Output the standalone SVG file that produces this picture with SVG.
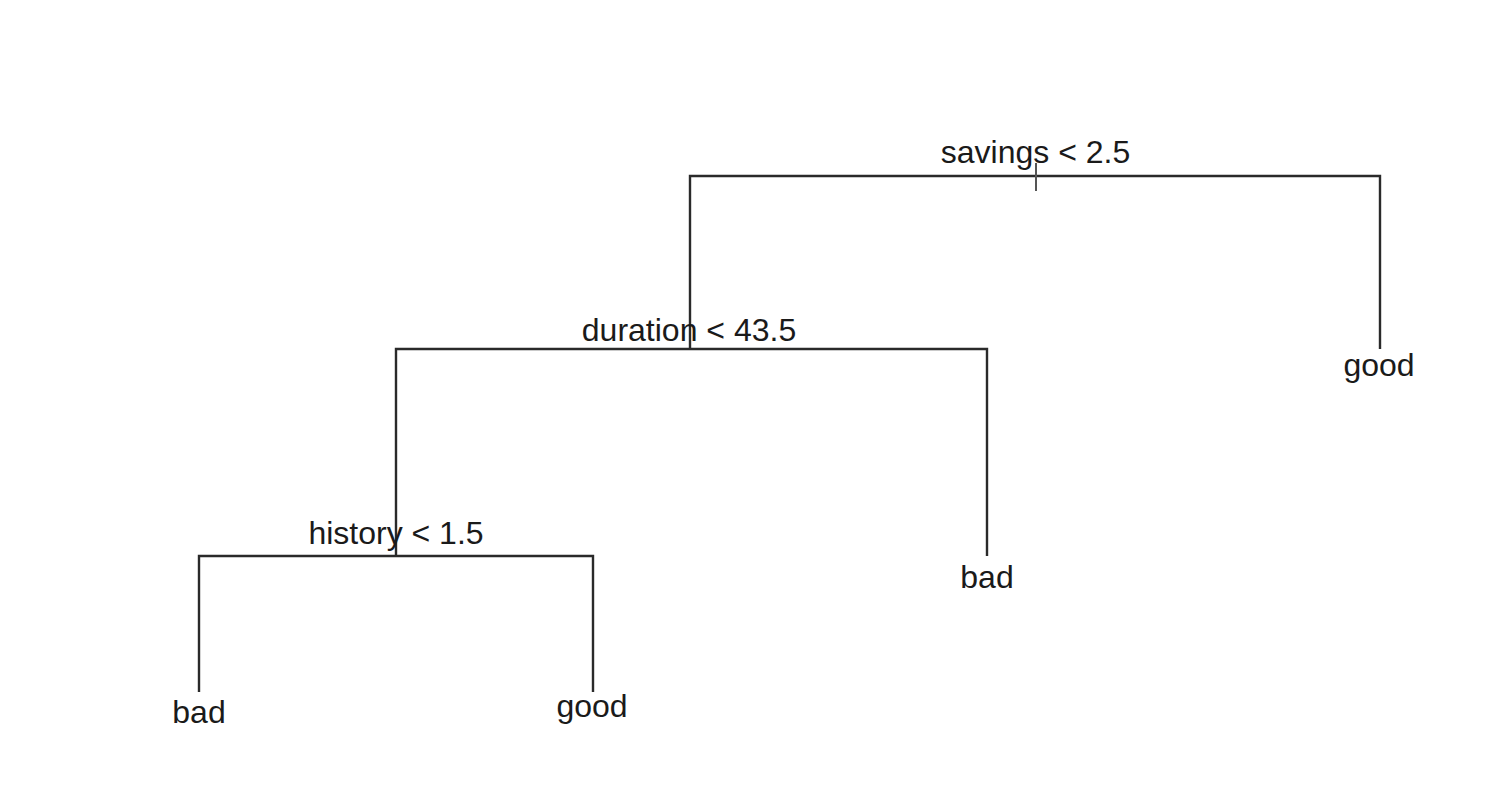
<svg xmlns="http://www.w3.org/2000/svg" width="1492" height="788" viewBox="0 0 1492 788">
<style>
.e{fill:none;stroke:#2a2a2a;stroke-width:2.4;stroke-linecap:butt}
.t{font-family:"Liberation Sans",Arial,sans-serif;font-size:32px;fill:#1a1a1a;text-anchor:middle}
</style>
<rect width="1492" height="788" fill="#fff"/>
<g id="connectors">
<path class="e" d="M690,349 V176 H1380 V349"/>
<path class="e" d="M396,556 V349 H987 V556"/>
<path class="e" d="M199,692 V556 H593 V692"/>
<line x1="1036" y1="163" x2="1036" y2="191" stroke="#555" stroke-width="2"/>
</g>
<g id="n-savings"><text class="t" x="1035.5" y="163">savings &lt; 2.5</text></g>
<g id="n-duration"><text class="t" x="689" y="341">duration &lt; 43.5</text></g>
<g id="n-history"><text class="t" x="396" y="544">history &lt; 1.5</text></g>
<g id="n-good1"><text class="t" x="1379" y="376">good</text></g>
<g id="n-bad1"><text class="t" x="987" y="588">bad</text></g>
<g id="n-bad2"><text class="t" x="199" y="723">bad</text></g>
<g id="n-good2"><text class="t" x="592" y="717">good</text></g>
</svg>
